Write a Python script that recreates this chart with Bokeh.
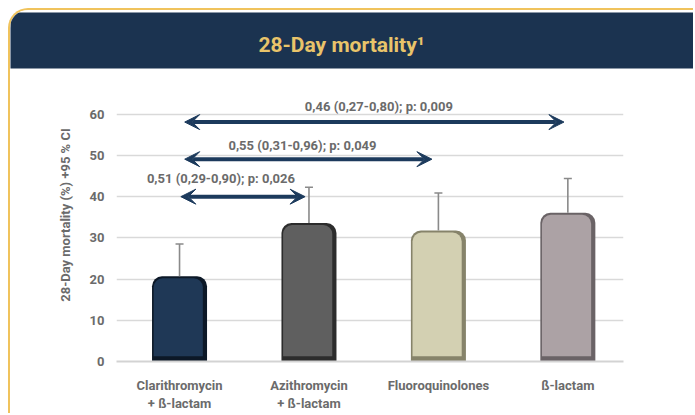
from bokeh.plotting import figure
from bokeh.models import (ColumnDataSource, Whisker, TeeHead, Arrow, VeeHead,
                          FixedTicker, Range1d)
from bokeh.transform import dodge
from bokeh.core.properties import value
from bokeh.embed import file_html
from bokeh.resources import INLINE

# ---------------- data ----------------
title_text = "28-Day mortality\u00b9"
categories = ["Clarithromycin\n+ \u00df-lactam", "Azithromycin\n+ \u00df-lactam",
              "Fluoroquinolones", "\u00df-lactam"]
positions = [1, 2, 3, 4]
mortality = [20.7, 33.6, 31.8, 36.1]
ci_upper = [28.5, 42.3, 40.9, 44.4]
bar_colors = ["#1f3856", "#5f5f5f", "#d3d0b2", "#aca2a5"]
shade_colors = ["#0c1827", "#2c2c2c", "#86836a", "#6a6366"]

y_ticks = [0, 10, 20, 30, 40, 50, 60]
y_label = "28-Day mortality (%) +95 % CI"

comparison_labels = ["0,46 (0,27-0,80); p: 0,009",
                     "0,55 (0,31-0,96); p: 0,049",
                     "0,51 (0,29-0,90); p: 0,026"]
arrow_start = [1.04, 1.04, 1.01]
arrow_end = [3.97, 2.95, 1.97]
arrow_y = [58.1, 49.1, 40.0]
label_x = [2.54, 1.95, 1.32]
label_y = [62.0, 52.3, 44.3]

NAVY = "#1c3a5c"
GOLD = "#f0c35c"
GREY_TXT = "#6b6b6b"
FONT = "Roboto"

# ---------------- figure ----------------
src = ColumnDataSource(dict(
    x=positions, top=mortality, upper=ci_upper, color=bar_colors, shade=shade_colors,
    face_top=[v - 0.5 for v in mortality],
))

p = figure(width=685, height=405, x_range=Range1d(0.513, 4.43),
           y_range=Range1d(0, 71.1), output_backend="svg", toolbar_location=None,
           min_border_left=106, min_border_right=72, min_border_top=57,
           min_border_bottom=54, title=title_text)
p.styles = {"margin": "8px 0 0 8px", "border-left": f"2px solid {GOLD}",
            "border-top": f"2px solid {GOLD}", "border-top-left-radius": "20px",
            "overflow": "hidden"}
p.outline_line_color = None
p.background_fill_color = "white"
p.border_fill_color = "white"

# header band = title box
p.title.align = "left"
p.title.offset = -106
p.title.standoff = 0
p.title.text_color = "#e9c46a"
p.title.text_font = FONT
p.title.text_font_size = "21px"
p.title.text_font_style = "bold"
p.title.background_fill_color = "#1b3350"
p.title.padding = (248, 400, 20, 12)
p.title.border_line_color = None

p.xgrid.grid_line_color = None
p.ygrid.ticker = FixedTicker(ticks=y_ticks)
p.ygrid.grid_line_color = "#d9d9d9"
p.ygrid.grid_line_width = 1.6

p.yaxis.ticker = FixedTicker(ticks=y_ticks)
p.yaxis.axis_line_color = None
p.yaxis.major_tick_line_color = None
p.yaxis.minor_tick_line_color = None
p.yaxis.major_label_standoff = 6
p.yaxis.major_label_text_font = FONT
p.yaxis.major_label_text_font_size = "13px"
p.yaxis.major_label_text_font_style = "bold"
p.yaxis.major_label_text_color = GREY_TXT
p.yaxis.axis_label = y_label
p.yaxis.axis_label_text_font = FONT
p.yaxis.axis_label_text_font_size = "13px"
p.yaxis.axis_label_text_font_style = "bold"
p.yaxis.axis_label_text_color = GREY_TXT
p.yaxis.axis_label_standoff = 14

p.xaxis.ticker = FixedTicker(ticks=positions)
p.xaxis.major_label_overrides = {pos: lab for pos, lab in zip(positions, categories)}
p.xaxis.axis_line_color = "#d3d3d3"
p.xaxis.axis_line_width = 2
p.xaxis.major_tick_line_color = None
p.xaxis.minor_tick_line_color = None
p.xaxis.major_label_standoff = 10
p.xaxis.major_label_text_font = FONT
p.xaxis.major_label_text_font_size = "13px"
p.xaxis.major_label_text_font_style = "bold"
p.xaxis.major_label_text_color = GREY_TXT

# bars: shaded base + lighter face
p.vbar(x="x", top="top", bottom=0, width=0.425, source=src, fill_color="shade",
       line_color=None, border_radius=(10, 10, 0, 0))
p.vbar(x=dodge("x", -0.01), top="face_top", bottom=1.3, width=0.38, source=src,
       fill_color="color", line_color=None, border_radius=(9, 9, 0, 0))

# CI whiskers
p.add_layout(Whisker(source=src, base="x", lower="top", upper="upper",
                     line_color="#8a8a8a", line_width=1.6,
                     upper_head=TeeHead(size=8, line_color="#8a8a8a", line_width=1.6),
                     lower_head=None, level="glyph"))

# comparison arrows
asrc = ColumnDataSource(dict(xs=arrow_start, xe=arrow_end, y=arrow_y))
p.add_layout(Arrow(source=asrc, x_start="xs", y_start="y", x_end="xe", y_end="y",
                   line_color=NAVY, line_width=4,
                   start=VeeHead(size=15, fill_color=NAVY, line_color=NAVY),
                   end=VeeHead(size=15, fill_color=NAVY, line_color=NAVY)))
p.text(x=label_x, y=label_y, text=comparison_labels, text_color=GREY_TXT,
       text_font=value(FONT), text_font_style="bold", text_font_size="13px",
       text_align="center", text_baseline="middle")

open("out.html", "w").write(file_html(p, INLINE))
